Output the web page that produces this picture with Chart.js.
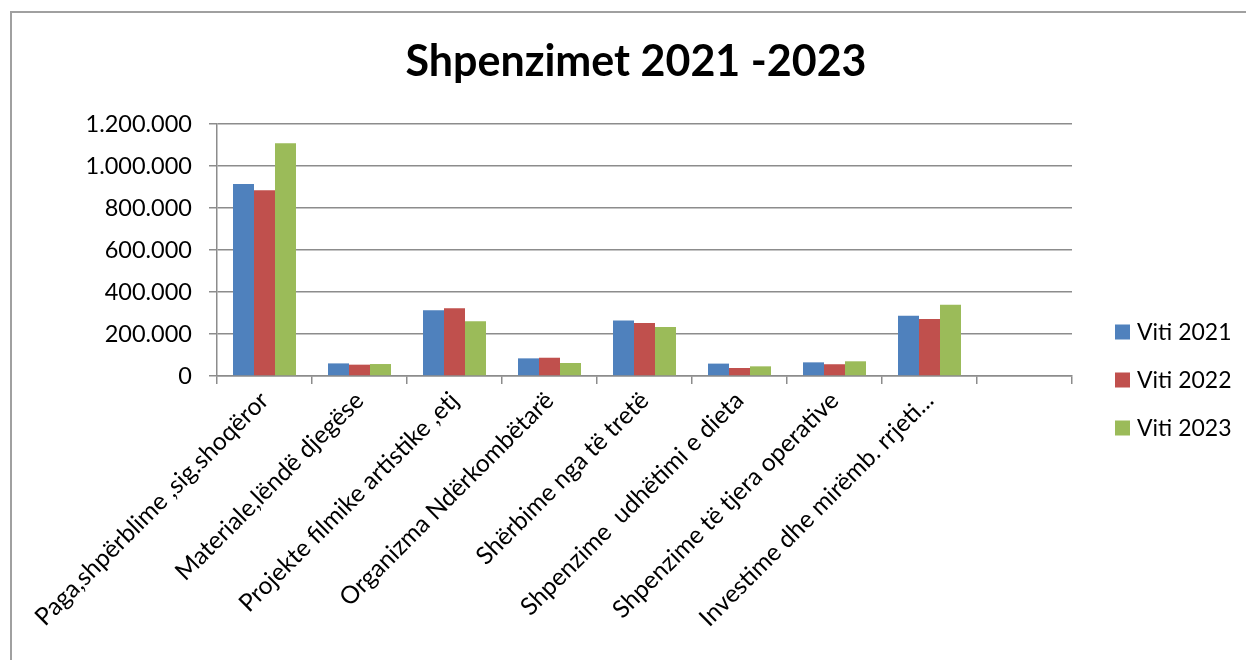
<!DOCTYPE html>
<html>
<head>
<meta charset="utf-8">
<script src="https://cdn.jsdelivr.net/npm/chart.js@4/dist/chart.umd.min.js"></script>
<style>
  html, body { margin: 0; padding: 0; background: #ffffff; }
  #wrap { width: 1246px; height: 660px; position: relative; }
</style>
</head>
<body>
<div id="wrap"><canvas id="c"></canvas></div>
<script>
const chartTitle = 'Shpenzimet 2021 -2023';
const categories = [
  'Paga,shpërblime ,sig.shoqëror',
  'Materiale,lëndë djegëse',
  'Projekte filmike artistike ,etj',
  'Organizma Ndërkombëtarë',
  'Shërbime nga të tretë',
  'Shpenzime  udhëtimi e dieta',
  'Shpenzime të tjera operative',
  'Investime dhe mirëmb. rrjeti...',
  ''
];
const seriesNames = ['Viti 2021', 'Viti 2022', 'Viti 2023'];
const v2021 = [914000, 60000, 313000, 84000, 264000, 59000, 65000, 287000, null];
const v2022 = [885000, 54000, 323000, 87000, 252000, 38000, 56000, 271000, null];
const v2023 = [1108000, 57000, 261000, 62000, 233000, 46000, 70000, 339000, null];
const yMin = 0, yMax = 1200000, yStep = 200000;

const colors = ['#4F81BD', '#C0504D', '#9BBB59'];
const FONT = 'Lato, "Open Sans", sans-serif';
const GRID = '#8c8c8c';

function fmt(v) {
  return String(Math.round(v)).replace(/\B(?=(\d{3})+(?!\d))/g, '.');
}

const borderPlugin = {
  id: 'outerBorder',
  beforeDraw(chart) {
    const ctx = chart.ctx;
    ctx.save();
    ctx.fillStyle = '#ffffff';
    ctx.fillRect(0, 0, chart.width, chart.height);
    ctx.strokeStyle = '#a0a0a0';
    ctx.lineWidth = 2;
    ctx.strokeRect(11, 12, 3000, 3000);
    ctx.restore();
  }
};

const legendPlugin = {
  id: 'sideLegend',
  afterDraw(chart) {
    const ctx = chart.ctx;
    ctx.save();
    ctx.font = '23px ' + FONT;
    ctx.textBaseline = 'middle';
    ctx.textAlign = 'left';
    chart.data.datasets.forEach((ds, i) => {
      const cy = 332 + i * 48;
      ctx.fillStyle = ds.backgroundColor;
      ctx.fillRect(1115, cy - 7.5, 15, 15);
      ctx.fillStyle = '#000000';
      ctx.fillText(ds.label, 1137, cy + 1);
    });
    ctx.restore();
  }
};

new Chart(document.getElementById('c'), {
  type: 'bar',
  data: {
    labels: categories,
    datasets: [
      { label: seriesNames[0], data: v2021, backgroundColor: colors[0] },
      { label: seriesNames[1], data: v2022, backgroundColor: colors[1] },
      { label: seriesNames[2], data: v2023, backgroundColor: colors[2] }
    ]
  },
  options: {
    responsive: true,
    maintainAspectRatio: false,
    animation: false,
    devicePixelRatio: 1,
    layout: { padding: { left: 26, right: 0, top: 0, bottom: 0 } },
    datasets: { bar: { categoryPercentage: 0.663, barPercentage: 1.0, borderWidth: 0 } },
    plugins: {
      legend: { display: false },
      tooltip: { enabled: false },
      title: {
        display: true,
        text: chartTitle,
        color: '#000000',
        font: { family: FONT, size: 43, weight: 'bold', lineHeight: 1.2 },
        padding: { top: 36, bottom: 36.4 }
      }
    },
    scales: {
      x: {
        grid: { display: true, offset: true, drawOnChartArea: false, drawTicks: true, tickLength: 8, color: GRID, lineWidth: 1.5 },
        border: { display: true, color: GRID, width: 1.5 },
        ticks: {
          autoSkip: false, minRotation: 45, maxRotation: 45, padding: 2,
          color: '#000000', font: { family: FONT, size: 24.5 }
        },
        afterFit(scale) { scale.height = 284; scale.paddingLeft = 0; scale.paddingRight = 0; }
      },
      y: {
        min: yMin, max: yMax,
        grid: { color: GRID, lineWidth: 1.5, drawTicks: true, tickLength: 8 },
        border: { display: true, color: GRID, width: 1.5 },
        ticks: {
          stepSize: yStep, padding: 17, color: '#000000',
          font: { family: FONT, size: 23.5 },
          callback: (v) => fmt(v)
        },
        afterFit(scale) { scale.width = 191; scale.paddingTop = 0; scale.paddingBottom = 0; }
      },
      ySpace: {
        type: 'linear',
        position: 'right',
        display: true,
        grid: { display: false, drawTicks: false },
        border: { display: false },
        ticks: { display: false },
        afterFit(scale) { scale.width = 174; scale.paddingTop = 0; scale.paddingBottom = 0; }
      }
    }
  },
  plugins: [borderPlugin, legendPlugin]
});
</script>
</body>
</html>
